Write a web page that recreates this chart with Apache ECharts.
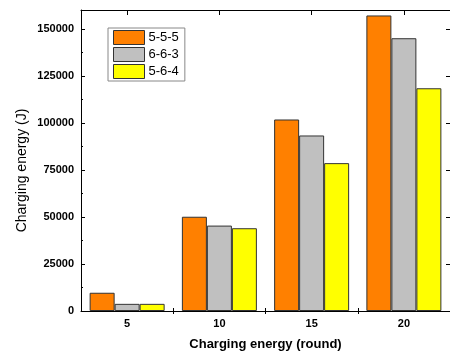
<!DOCTYPE html>
<html>
<head>
<meta charset="utf-8">
<script src="https://cdn.jsdelivr.net/npm/echarts@6/dist/echarts.min.js"></script>
<style>html,body{margin:0;padding:0;background:#fff}#c{width:450px;height:356px}</style>
</head>
<body>
<div id="c"></div>
<script>
var categories = ['5', '10', '15', '20'];
var seriesNames = ['5-5-5', '6-6-3', '5-6-4'];
var s555 = [9700, 50100, 101800, 157100];
var s663 = [3800, 45400, 93300, 145000];
var s564 = [3800, 44000, 78600, 118400];
var yTicks = [0, 25000, 50000, 75000, 100000, 125000, 150000];
var yMinorTicks = [12500, 37500, 62500, 87500, 112500, 137500];
var xMinorTicks = [7.5, 12.5, 17.5];

var xVals = categories.map(Number);
var colors = ['#FF8000', '#C0C0C0', '#FFFF00'];
var font = 'Liberation Sans, Arial, sans-serif';

function pairs(arr) { return arr.map(function (v, i) { return [xVals[i], v]; }); }

var chart = echarts.init(document.getElementById('c'), null, { renderer: 'canvas' });

var baseX = {
  type: 'value', min: 2.5, max: 22.5,
  splitLine: { show: false },
  axisLine: { show: true, onZero: false, lineStyle: { color: '#000', width: 1 } }
};
var baseY = {
  type: 'value', min: 0, max: 160000,
  splitLine: { show: false },
  axisLine: { show: true, onZero: false, lineStyle: { color: '#000', width: 1 } }
};

var option = {
  animation: false,
  backgroundColor: '#fff',
  grid: { left: 81, top: 10, width: 374, height: 303, containLabel: false },
  legend: {
    orient: 'vertical', left: 108, top: 28,
    data: seriesNames,
    itemWidth: 31, itemHeight: 14, itemGap: 2,
    padding: [2, 6, 2, 5],
    borderColor: '#888', borderWidth: 1,
    textStyle: { fontFamily: font, fontSize: 13, color: '#000', padding: [0, 0, 0, -1] },
    icon: 'rect',
    itemStyle: { borderColor: '#333', borderWidth: 1 }
  },
  xAxis: [
    Object.assign({}, baseX, {
      position: 'bottom',
      name: 'Charging energy (round)', nameLocation: 'middle', nameGap: 27, nameMoveOverlap: false,
      nameTextStyle: { fontFamily: font, fontSize: 13, fontWeight: 'bold', color: '#000' },
      axisTick: { show: true, inside: true, length: 5, customValues: xVals, lineStyle: { color: '#000' } },
      axisLabel: { show: true, customValues: xVals, margin: 7, fontFamily: font, fontSize: 11, fontWeight: 'bold', color: '#000',
        formatter: function (v) { return String(v); } }
    }),
    Object.assign({}, baseX, {
      position: 'bottom',
      axisLine: { show: false },
      axisTick: { show: true, inside: true, length: 3, customValues: xMinorTicks, lineStyle: { color: '#000' } },
      axisLabel: { show: false }
    }),
    Object.assign({}, baseX, {
      position: 'top',
      axisTick: { show: true, inside: true, length: 5, customValues: xVals, lineStyle: { color: '#000' } },
      axisLabel: { show: false }
    }),
    Object.assign({}, baseX, {
      position: 'top',
      axisLine: { show: false },
      axisTick: { show: true, inside: true, length: 3, customValues: xMinorTicks, lineStyle: { color: '#000' } },
      axisLabel: { show: false }
    })
  ],
  yAxis: [
    Object.assign({}, baseY, {
      position: 'left',
      name: 'Charging energy (J)', nameLocation: 'middle', nameGap: 52, nameRotate: 90, nameMoveOverlap: false,
      nameTextStyle: { fontFamily: font, fontSize: 14, color: '#000', padding: [0, 20, 0, 0] },
      axisTick: { show: true, inside: true, length: 4, customValues: yTicks, lineStyle: { color: '#000' } },
      axisLabel: { show: true, customValues: yTicks, margin: 7, fontFamily: font, fontSize: 11, fontWeight: 'bold', color: '#000',
        formatter: function (v) { return String(v); } }
    }),
    Object.assign({}, baseY, {
      position: 'left',
      axisLine: { show: false },
      axisTick: { show: true, inside: true, length: 2, customValues: yMinorTicks, lineStyle: { color: '#000' } },
      axisLabel: { show: false }
    }),
    Object.assign({}, baseY, {
      position: 'right',
      axisTick: { show: true, inside: true, length: 4, customValues: yTicks, lineStyle: { color: '#000' } },
      axisLabel: { show: false }
    })
  ],
  series: [s555, s663, s564].map(function (arr, i) {
    return {
      name: seriesNames[i], type: 'bar', xAxisIndex: 0, yAxisIndex: 0,
      data: pairs(arr), barWidth: 25, barGap: '0%',
      itemStyle: { color: colors[i], borderColor: '#333', borderWidth: 1 }
    };
  })
};
chart.setOption(option);
</script>
</body>
</html>
